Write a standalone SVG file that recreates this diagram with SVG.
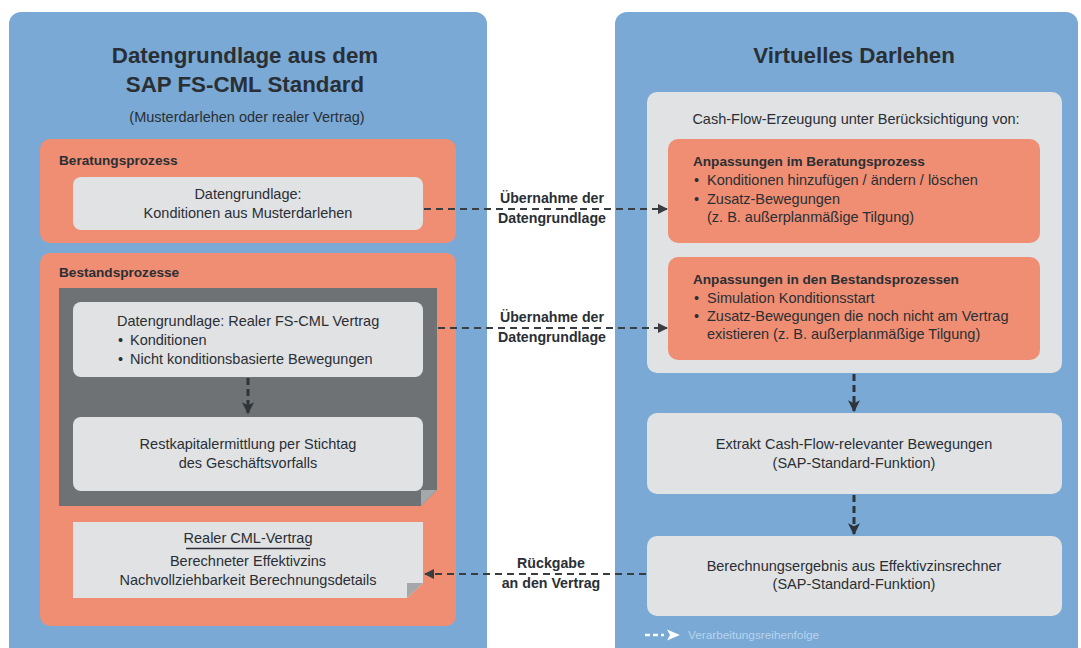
<svg xmlns="http://www.w3.org/2000/svg" width="1081" height="648" viewBox="0 0 1081 648">
<defs>
<style>
.panel{fill:#79a9d4}
.orange{fill:#ef8e73}
.lgrey{fill:#e1e2e4}
.dgrey{fill:#6e7275}
.fold{fill:#a4a8ab}
text{font-family:"Liberation Sans",Arial,sans-serif;fill:#2a2f35}
.title{font-size:22.3px;font-weight:bold;text-anchor:middle}
.sub{font-size:14.5px;text-anchor:middle}
.lbl{font-size:13.6px;font-weight:bold}
.body{font-size:14.5px}
.c{text-anchor:middle}
.conlbl{font-size:14.2px;font-weight:bold;text-anchor:middle}
.legend{font-size:11.8px;fill:#b9d3ec}
.dash{fill:none;stroke:#383d42;stroke-width:2;stroke-dasharray:7 5}
.vdash{fill:none;stroke:#2f3439;stroke-width:3;stroke-dasharray:7 4}
</style>
<marker id="ah" viewBox="0 0 10 10" refX="9" refY="5" markerWidth="5" markerHeight="5" markerUnits="strokeWidth" orient="auto">
<path d="M0,0 L10,5 L0,10 z" fill="#383d42"/>
</marker>
<marker id="vah" viewBox="0 0 10 10" refX="9" refY="5" markerWidth="4" markerHeight="4.4" markerUnits="strokeWidth" orient="auto">
<path d="M0,0 L10,5 L0,10 L2.5,5 z" fill="#2f3439"/>
</marker>
</defs>
<rect width="1081" height="648" fill="#ffffff"/>

<g id="left-panel">
<rect class="panel" x="9" y="12" width="478" height="648" rx="12"/>
<text class="title" x="245" y="63">Datengrundlage aus dem</text>
<text class="title" x="245" y="92">SAP FS-CML Standard</text>
<text class="sub" x="247" y="122">(Musterdarlehen oder realer Vertrag)</text>
</g>

<g id="beratungsprozess">
<rect class="orange" x="40" y="139" width="416" height="104" rx="10"/>
<text class="lbl" x="59" y="165">Beratungsprozess</text>
</g>
<g id="datengrundlage-muster">
<rect class="lgrey" x="73" y="177" width="350" height="53" rx="8"/>
<text class="body c" x="248" y="199">Datengrundlage:</text>
<text class="body c" x="248" y="218">Konditionen aus Musterdarlehen</text>
</g>

<g id="bestandsprozesse">
<rect class="orange" x="40" y="253" width="416" height="373" rx="10"/>
<text class="lbl" x="59" y="277">Bestandsprozesse</text>
<polygon class="dgrey" points="59,288 437,288 437,490 421,506 59,506"/>
<polygon class="fold" points="421,490 437,490 421,506"/>
</g>
<g id="datengrundlage-real">
<rect class="lgrey" x="73" y="302" width="350" height="75" rx="8"/>
<text class="body" x="117" y="326">Datengrundlage: Realer FS-CML Vertrag</text>
<text class="body" x="118" y="345">•</text><text class="body" x="130" y="345">Konditionen</text>
<text class="body" x="118" y="364">•</text><text class="body" x="130" y="364">Nicht konditionsbasierte Bewegungen</text>
</g>
<g id="restkapital">
<rect class="lgrey" x="73" y="417" width="350" height="74" rx="8"/>
<text class="body c" x="248" y="449">Restkapitalermittlung per Stichtag</text>
<text class="body c" x="248" y="468">des Geschäftsvorfalls</text>
</g>
<g id="realer-cml-vertrag">
<polygon class="lgrey" points="73,522 423,522 423,583 407,598 73,598"/>
<polygon class="fold" points="407,583 423,583 407,598"/>
<text class="body c" x="248" y="543">Realer CML-Vertrag</text>
<line x1="186" y1="548.5" x2="310" y2="548.5" stroke="#2a2f35" stroke-width="1.3"/>
<text class="body c" x="248" y="566">Berechneter Effektivzins</text>
<text class="body c" x="248" y="585">Nachvollziehbarkeit Berechnungsdetails</text>
</g>

<g id="right-panel">
<rect class="panel" x="615" y="12" width="463" height="648" rx="12"/>
<text class="title" x="854" y="63">Virtuelles Darlehen</text>
</g>
<g id="cashflow">
<rect class="lgrey" x="647" y="92" width="415" height="281" rx="10"/>
<text class="body c" x="856" y="124">Cash-Flow-Erzeugung unter Berücksichtigung von:</text>
</g>
<g id="anpassungen-beratung">
<rect class="orange" x="668" y="139" width="372" height="104" rx="10"/>
<text class="lbl" x="693" y="166">Anpassungen im Beratungsprozess</text>
<text class="body" x="694" y="185">•</text><text class="body" x="707" y="185">Konditionen hinzufügen / ändern / löschen</text>
<text class="body" x="694" y="204">•</text><text class="body" x="707" y="204">Zusatz-Bewegungen</text>
<text class="body" x="707" y="222">(z. B. außerplanmäßige Tilgung)</text>
</g>
<g id="anpassungen-bestand">
<rect class="orange" x="668" y="257" width="372" height="103" rx="10"/>
<text class="lbl" x="693" y="284">Anpassungen in den Bestandsprozessen</text>
<text class="body" x="694" y="303">•</text><text class="body" x="707" y="303">Simulation Konditionsstart</text>
<text class="body" x="694" y="321">•</text><text class="body" x="707" y="321">Zusatz-Bewegungen die noch nicht am Vertrag</text>
<text class="body" x="707" y="339">existieren (z. B. außerplanmäßige Tilgung)</text>
</g>
<g id="extrakt">
<rect class="lgrey" x="647" y="413" width="415" height="81" rx="10"/>
<text class="body c" x="854" y="449">Extrakt Cash-Flow-relevanter Bewegungen</text>
<text class="body c" x="854" y="468">(SAP-Standard-Funktion)</text>
</g>
<g id="berechnungsergebnis">
<rect class="lgrey" x="647" y="536" width="415" height="80" rx="10"/>
<text class="body c" x="854" y="571">Berechnungsergebnis aus Effektivzinsrechner</text>
<text class="body c" x="854" y="589">(SAP-Standard-Funktion)</text>
</g>
<g id="legend">
<path d="M645,635 H664" stroke="#ffffff" stroke-width="2.5" stroke-dasharray="5 3" fill="none"/>
<path d="M667,629.5 L680,635 L667,640.5 L670,635 z" fill="#ffffff"/>
<text class="legend" x="688" y="639">Verarbeitungsreihenfolge</text>
</g>

<g id="connectors">
<line class="dash" x1="424" y1="209" x2="667" y2="209" marker-end="url(#ah)"/>
<text class="conlbl" x="552" y="203">Übernahme der</text>
<text class="conlbl" x="552" y="223">Datengrundlage</text>
<line class="dash" x1="438" y1="328" x2="667" y2="328" marker-end="url(#ah)"/>
<text class="conlbl" x="552" y="322">Übernahme der</text>
<text class="conlbl" x="552" y="342">Datengrundlage</text>
<line class="dash" x1="646" y1="574" x2="425" y2="574" marker-end="url(#ah)"/>
<text class="conlbl" x="551" y="568">Rückgabe</text>
<text class="conlbl" x="551" y="588">an den Vertrag</text>
<line class="vdash" x1="248" y1="378" x2="248" y2="413" marker-end="url(#vah)"/>
<line class="vdash" x1="854" y1="374" x2="854" y2="411" marker-end="url(#vah)"/>
<line class="vdash" x1="854" y1="495" x2="854" y2="534" marker-end="url(#vah)"/>
</g>
</svg>
